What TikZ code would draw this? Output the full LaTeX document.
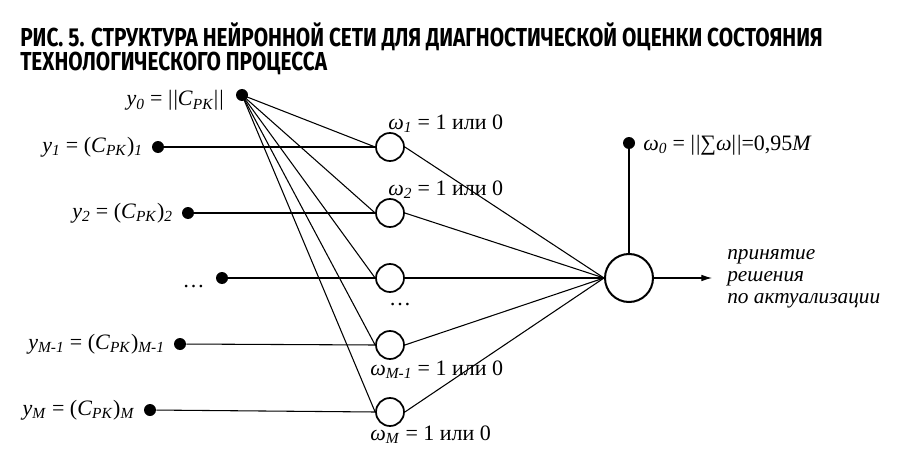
\documentclass[tikz,border=0pt]{standalone}
\usepackage{fontspec}
\setmainfont{Liberation Serif}
\newfontfamily\titlefont{Fira Sans}[FakeStretch=0.8]
\usetikzlibrary{arrows.meta}
\newcommand{\nrm}{|\kern0.8pt|}
\begin{document}
\begin{tikzpicture}[x=0.75pt,y=-0.75pt,
  blob/.style={circle,fill,inner sep=0pt,minimum size=9pt},
  cell/.style={circle,draw,line width=1.3pt,inner sep=0pt,minimum size=21pt},
  lbl/.style={inner sep=0pt,font=\fontsize{16.5}{19}\selectfont},
  every edge/.style={draw,line width=0.8pt}]
\useasboundingbox (0,0) rectangle (900,460);
\node [anchor=base west,inner sep=0pt,font=\titlefont\bfseries\fontsize{19.5}{22}\selectfont] (t1) at (20,47) {РИС. 5. СТРУКТУРА НЕЙРОННОЙ СЕТИ ДЛЯ ДИАГНОСТИЧЕСКОЙ ОЦЕНКИ СОСТОЯНИЯ};
\node [anchor=base west,inner sep=0pt,font=\titlefont\bfseries\fontsize{19.5}{22}\selectfont] (t2) at (20,71) {ТЕХНОЛОГИЧЕСКОГО ПРОЦЕССА};
% inputs
\node [blob] (d0) at (242,95) {};
\node [blob] (d1) at (158,147) {};
\node [blob] (d2) at (188,213) {};
\node [blob] (d3) at (222,278) {};
\node [blob] (d4) at (180,344) {};
\node [blob] (d5) at (150,410) {};
\node [lbl,anchor=base east] (l0) at (224,106) {\textit{y}\textsubscript{\textit{0}} = \nrm\textit{С}\textsubscript{\textit{РК}}\nrm};
\node [lbl,anchor=base east] (l1) at (143,152) {\textit{y}\textsubscript{\textit{1}} = (\textit{С}\textsubscript{\textit{РК}})\textsubscript{\textit{1}}};
\node [lbl,anchor=base east] (l2) at (173,218) {\textit{y}\textsubscript{\textit{2}} = (\textit{С}\textsubscript{\textit{РК}})\textsubscript{\textit{2}}};
\node [lbl,anchor=base east] (l3) at (205,287) {\ldots};
\node [lbl,anchor=base east] (l4) at (165,349) {\textit{y}\textsubscript{\textit{M-1}} = (\textit{С}\textsubscript{\textit{РК}})\textsubscript{\textit{M-1}}};
\node [lbl,anchor=base east] (l5) at (135,415) {\textit{y}\textsubscript{\textit{M}} = (\textit{С}\textsubscript{\textit{РК}})\textsubscript{\textit{M}}};
% neurons
\node [cell] (n1) at (390,147) {};
\node [cell] (n2) at (390,213) {};
\node [cell] (n3) at (390,278) {};
\node [cell] (n4) at (390,345) {};
\node [cell] (n5) at (390,412) {};
\node [lbl,anchor=base west] (w1) at (388,129) {\textit{ω}\textsubscript{\textit{1}} = 1 или 0};
\node [lbl,anchor=base west] (w2) at (388,195) {\textit{ω}\textsubscript{\textit{2}} = 1 или 0};
\node [lbl,anchor=base] (w3) at (400,305) {\ldots};
\node [lbl,anchor=base west] (w4) at (370,375) {\textit{ω}\textsubscript{\textit{M-1}} = 1 или 0};
\node [lbl,anchor=base west] (w5) at (370,440) {\textit{ω}\textsubscript{\textit{M}} = 1 или 0};
% output
\node [circle,draw,line width=1.5pt,inner sep=0pt,minimum size=36pt] (out) at (629,278) {};
\node [blob] (d6) at (629,143) {};
\node [lbl,anchor=base west] (w0) at (643,150) {\textit{ω}\textsubscript{\textit{0}} = \nrm∑\textit{ω}\nrm=0,95\textit{M}};
\coordinate (a) at (712,278);
\node [inner sep=0pt,anchor=west,align=left,font=\fontsize{16}{16.5}\selectfont\itshape] (res) at (727,279) {принятие\\решения\\по актуализации};
\draw  (d1) edge (n1.west);
\draw  (d2) edge (n2.west);
\draw  (d3) edge (n3.west);
\draw  (d4) edge (n4.west);
\draw  (d5) edge (n5.west);
\draw  (d0.center) edge (n1.west);
\draw  (d0.center) edge (n2.west);
\draw  (d0.center) edge (n3.west);
\draw  (d0.center) edge (n4.west);
\draw  (d0.center) edge (n5.west);
\draw  (n1.east) edge (out.west);
\draw  (n2.east) edge (out.west);
\draw  (n3.east) edge (out.west);
\draw  (n4.east) edge (out.west);
\draw  (n5.east) edge (out.west);
\draw  (d6) edge (out);
\draw  (out) edge[-{Latex[length=8pt,width=5pt]}] (a);
\end{tikzpicture}
\end{document}
